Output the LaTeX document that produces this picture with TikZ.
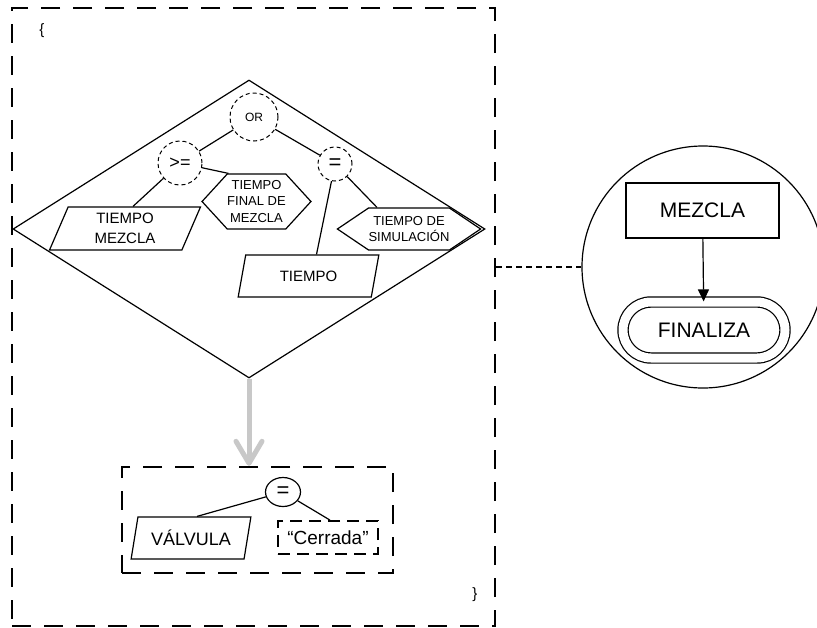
\documentclass[tikz,border=0pt]{standalone}
\usepackage{fontspec}
\setmainfont{Liberation Sans}
\usepackage{xcolor}
\usetikzlibrary{arrows.meta,shapes.geometric,shapes.misc,shapes.symbols}
\definecolor{flowgray}{RGB}{200,200,200}

\begin{document}
\begin{tikzpicture}[x=1pt,y=1pt,
  every node/.style={inner sep=0pt,align=center},
  frame/.style={draw,line width=2.4pt,dash pattern=on 19pt off 13pt},
  opnode/.style={draw,circle,line width=1pt,dash pattern=on 4pt off 3pt},
  varnode/.style={draw,trapezium,trapezium left angle=72,trapezium right angle=108,
    trapezium stretches=true,line width=1.2pt},
  constnode/.style={draw,signal,signal to=west and east,line width=1.2pt},
  edge/.style={line width=1.2pt},
  flow/.style={draw=flowgray,line width=5pt,-{Straight Barb[length=22pt,width=26pt,round]}},
  link/.style={line width=1.2pt,dash pattern=on 6pt off 4pt}]
\useasboundingbox (0,0) rectangle (817,-627);
\node [frame,minimum width=483pt,minimum height=618pt] (block) at (253.5,-317) {};
\node [font=\fontsize{15}{18}\selectfont] (open) at (42,-31) {\{};
\node [font=\fontsize{15}{18}\selectfont] (close) at (475,-595) {\}};
\node [draw,diamond,line width=1.2pt,minimum width=472pt,minimum height=298pt] (cond) at (249,-229) {};
\node [opnode,minimum size=48pt,font=\fontsize{12}{14}\selectfont] (or) at (254,-117) {OR};
\node [opnode,minimum size=44pt,font=\fontsize{18}{20}\selectfont] (ge) at (180,-163) {>=};
\node [opnode,minimum size=34pt,font=\fontsize{22}{24}\selectfont] (eqa) at (335,-164) {=};
\node [varnode,minimum width=152pt,minimum height=43pt,font=\fontsize{15}{20}\selectfont] (tmez) at (125,-228.5) {TIEMPO\\MEZCLA};
\node [constnode,minimum width=105pt,minimum height=55pt,signal pointer angle=95,font=\fontsize{13}{16.5}\selectfont] (tfin) at (256.5,-201.5) {TIEMPO\\FINAL DE\\MEZCLA};
\node [varnode,minimum width=141pt,minimum height=42pt,font=\fontsize{15}{18}\selectfont] (tiempo) at (308.5,-276) {TIEMPO};
\node [constnode,minimum width=126pt,minimum height=42pt,signal pointer angle=68,font=\fontsize{13}{15.5}\selectfont] (tsim) at (409,-229) {TIEMPO DE\\SIMULACIÓN};
\draw [edge] (or) -- (ge);
\draw [edge] (or) -- (eqa);
\draw [edge] (ge) -- ([xshift=8pt]tmez.north);
\draw [edge] (ge) -- ([xshift=-28pt]tfin.north);
\draw [edge] (eqa) -- ([xshift=8pt]tiempo.north);
\draw [edge] (eqa) -- ([xshift=-32pt]tsim.north);
\node [frame,minimum width=271pt,minimum height=106pt] (act) at (257.5,-520) {};
\node [draw,ellipse,line width=1.2pt,minimum width=35pt,minimum height=29pt,font=\fontsize{22}{24}\selectfont] (eqb) at (283,-492) {=};
\node [varnode,minimum width=120pt,minimum height=42pt,font=\fontsize{18}{20}\selectfont] (valv) at (191,-538) {VÁLVULA};
\node [draw,line width=1.8pt,dash pattern=on 12pt off 7pt,minimum width=100pt,minimum height=33pt,font=\fontsize{19}{21}\selectfont] (cerr) at (328,-537.5) {“Cerrada”};
\draw [edge] (eqb) -- ([xshift=6pt]valv.north);
\draw [edge] (eqb) -- ([xshift=2pt]cerr.north);
\draw [flow] (cond.south) -- (cond.south |- act.north);
\node [draw,circle,line width=1.2pt,minimum size=242pt] (detail) at (703,-267) {};
\node [draw,line width=1.2pt,minimum width=153pt,minimum height=55pt,font=\fontsize{21}{24}\selectfont] (mez) at (702.5,-210.5) {MEZCLA};
\node [draw,rounded rectangle,double,double distance=9pt,line width=1.2pt,minimum width=162pt,minimum height=56pt,font=\fontsize{21}{24}\selectfont] (fin) at (704,-330) {FINALIZA};
\draw [edge,-{Triangle[length=12pt,width=11pt]}] (mez) -- (fin);
\draw [link] (detail.west -| block.east) -- (detail.west);
\end{tikzpicture}
\end{document}
